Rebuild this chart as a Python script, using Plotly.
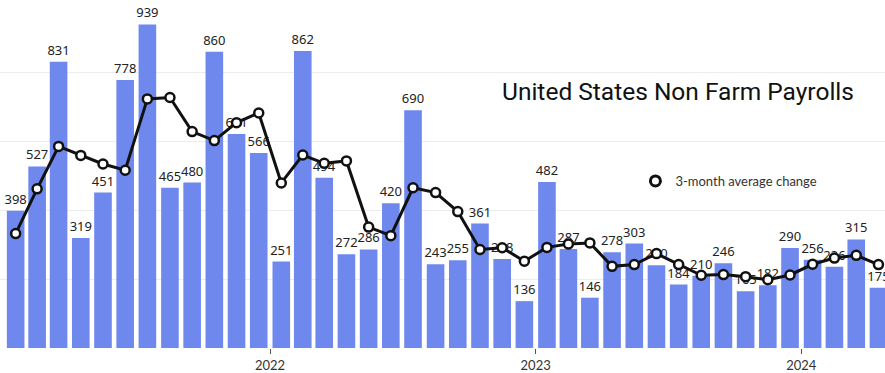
import plotly.graph_objects as go

# Monthly non-farm payroll change (thousands), Jan 2021 - Apr 2024
months = [f"{y}-{m:02d}-01" for y in range(2021, 2025) for m in range(1, 13)][:40]
payrolls = [398, 527, 831, 319, 451, 778, 939, 465, 480, 860, 621, 566,
            251, 862, 494, 272, 286, 420, 690, 243, 255, 361, 258, 136,
            482, 287, 146, 278, 303, 240, 184, 210, 246, 165, 182, 290,
            256, 236, 315, 175]
# 3-month average change
avg3 = [332, 462, 585, 559, 534, 516, 723, 727, 628, 602, 654, 682,
        479, 560, 536, 543, 351, 326, 465, 451, 396, 286, 291, 252,
        292, 302, 305, 237, 242, 274, 242, 211, 213, 207, 198, 212,
        243, 261, 269, 242]
year_ticks = ["2022-01-01", "2023-01-01", "2024-01-01"]
year_labels = ["2022", "2023", "2024"]

fig = go.Figure()
fig.add_trace(go.Bar(
    x=months, y=payrolls,
    xperiod="M1", xperiodalignment="middle",
    marker=dict(color="#6f88ee", line=dict(width=0)),
    text=[str(v) for v in payrolls], textposition="outside",
    constraintext="none",
    textfont=dict(family="Noto Sans", size=13, color="#222222"),
    cliponaxis=False, showlegend=False,
))
fig.add_trace(go.Scatter(
    x=months, y=avg3,
    xperiod="M1", xperiodalignment="middle",
    mode="lines+markers",
    line=dict(color="#111111", width=3),
    marker=dict(size=9, color="white", line=dict(color="#111111", width=2.5)),
    showlegend=False, cliponaxis=False,
))
# legend entry: marker only
fig.add_trace(go.Scatter(
    x=[None], y=[None], mode="markers", name="3-month average change",
    marker=dict(size=10, color="white", line=dict(color="#111111", width=3)),
))

fig.update_layout(
    width=885, height=373,
    margin=dict(l=0, r=0, t=0, b=21),
    paper_bgcolor="white", plot_bgcolor="white",
    bargap=0.18,
    font=dict(family="Lato", color="#333333"),
    legend=dict(x=0.718, y=0.48, xanchor="left", yanchor="middle",
                bgcolor="rgba(0,0,0,0)", font=dict(family="Lato", size=13, color="#333333")),
    annotations=[dict(
        text="United States Non Farm Payrolls", xref="paper", yref="paper",
        x=0.766, y=(373 - 93 - 21) / 352, xanchor="center", yanchor="middle",
        showarrow=False, font=dict(family="Roboto", size=24.5, color="#111111"),
    )],
)
fig.update_xaxes(
    type="date", range=["2020-12-26", "2024-04-25"],
    tickvals=year_ticks, ticktext=year_labels,
    ticks="outside", ticklen=5, tickcolor="#555555", tickwidth=1,
    tickfont=dict(family="Lato", size=13, color="#333333"),
    showgrid=False, showline=False, zeroline=False,
)
fig.update_yaxes(
    range=[0, 1010], tickvals=[200, 400, 600, 800], showticklabels=False,
    showgrid=True, gridcolor="#ececec", gridwidth=1, zeroline=False,
)

fig.write_html("out.html")
